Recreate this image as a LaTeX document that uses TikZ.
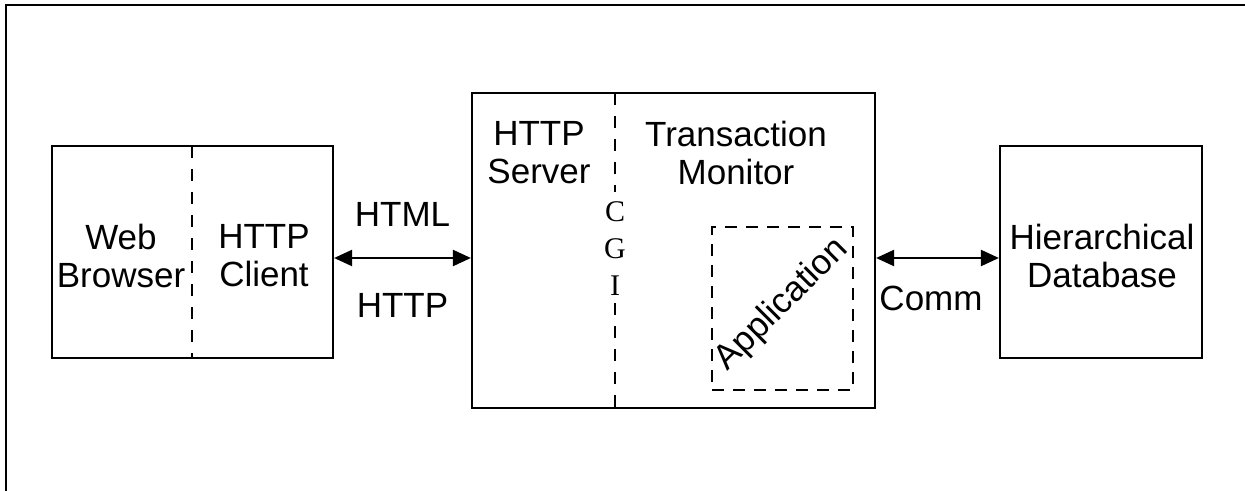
\documentclass[tikz,border=0pt]{standalone}
\usepackage{fontspec}
\setmainfont{Liberation Sans}
\newfontfamily\cgifont{Liberation Serif}
\usetikzlibrary{arrows.meta}

\tikzset{
  px/.style={x=0.5pt,y=-0.5pt},
  box/.style={draw,line width=1.1pt,inner sep=0pt},
  divider/.style={line width=1.2pt,dash pattern=on 6pt off 5.5pt},
  appbox/.style={draw,line width=1.25pt,dash pattern=on 6pt off 4.5pt,inner sep=0pt},
  label/.style={font=\fontsize{17.5}{19}\selectfont,align=center,inner sep=0pt},
  cgi/.style={font=\cgifont\fontsize{15}{15}\selectfont,inner sep=0pt},
  link/.style={line width=1.1pt,{Triangle[length=9pt,width=8pt]}-{Triangle[length=9pt,width=8pt]}},
  frame/.style={line width=1.25pt}
}

\begin{document}
\begin{tikzpicture}[px]
  \useasboundingbox (0,0) rectangle (1245,491);

  % outer frame (top and left edges)
  \coordinate (fbl) at (6,491);
  \coordinate (ftl) at (6,5);
  \coordinate (ftr) at (1245,5);
  \draw[frame] (fbl) -- (ftl) -- (ftr);

  % boxes
  \node[box,minimum width=140.5pt,minimum height=106pt] (client) at (192.5,252) {};
  \node[box,minimum width=201.5pt,minimum height=157.5pt] (server) at (673.5,250.5) {};
  \node[appbox,minimum width=70.5pt,minimum height=81.5pt] (app) at (782.5,308.5) {};
  \node[box,minimum width=101pt,minimum height=106pt] (db) at (1101,252) {};

  % dashed dividers
  \coordinate (cdt) at (192,146);
  \coordinate (cdb) at (192,358);
  \draw[divider] (cdt) -- (cdb);
  \coordinate (sdt) at (615,93);
  \coordinate (sdm1) at (615,192);
  \coordinate (sdm2) at (615,303);
  \coordinate (sdb) at (615,408);
  \draw[divider] (sdt) -- (sdm1);
  \draw[divider] (sdm2) -- (sdb);

  % texts
  \node[label] (web) at (121,256) {Web\\Browser};
  \node[label] (hc) at (264,256) {HTTP\\Client};
  \node[label] (hs) at (539,153) {HTTP\\Server};
  \node[label] (tm) at (736,153) {Transaction\\Monitor};
  \node[label] (hd) at (1102,256) {Hierarchical\\Database};
  \node[label,rotate=45] (appl) at (782,305) {Application};

  \node[cgi] (c) at (615,212) {C};
  \node[cgi] (g) at (615,249) {G};
  \node[cgi] (i) at (615,286) {I};

  % connectors
  \draw[link] (client.east |- 0,258) -- (server.west |- 0,258)
    node[midway,label,above=15pt] (html) {HTML}
    node[midway,label,below=17pt] (http) {HTTP};
  \draw[link] (server.east |- 0,258) -- (db.west |- 0,258);
  \node[label] (comm) at (931,298) {Comm};
\end{tikzpicture}
\end{document}
